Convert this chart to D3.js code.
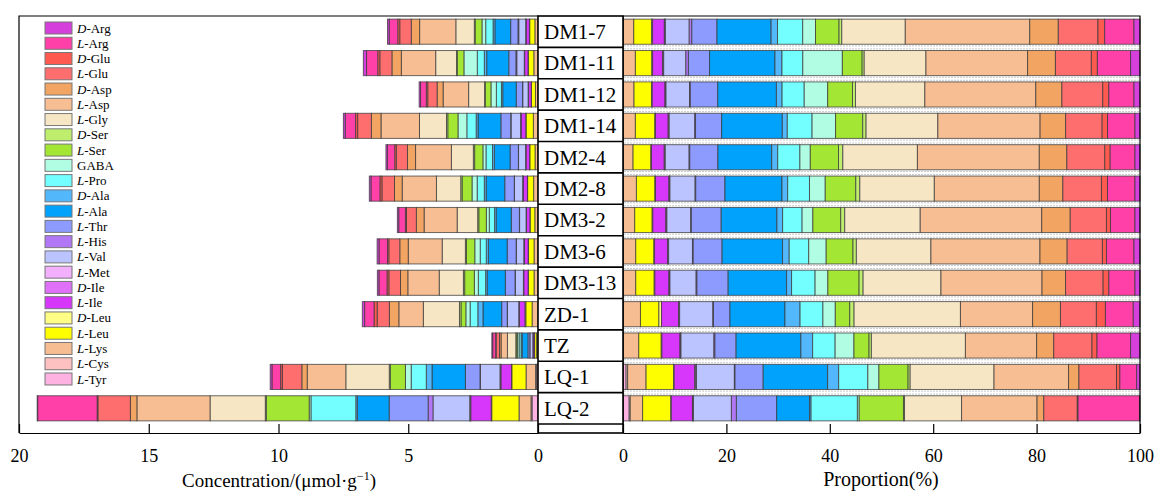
<!DOCTYPE html>
<html>
<head>
<meta charset="utf-8">
<script src="https://cdn.jsdelivr.net/npm/d3@7"></script>
<style>
    body { margin: 0; background: #fff; }
    text { font-family: "Liberation Serif", "Times New Roman", serif; fill: #000; }
</style>
</head>
<body>
<div id="chart"></div>
<script>
// Samples, top to bottom
const samples = ["DM1-7", "DM1-11", "DM1-12", "DM1-14", "DM2-4", "DM2-8", "DM3-2",
    "DM3-6", "DM3-13", "ZD-1", "TZ", "LQ-1", "LQ-2"];

// Amino acids in stacking order (from 0 outwards)
const aminoAcids = ["L-Tyr", "L-Cys", "L-Lys", "L-Leu", "D-Leu", "L-Ile", "D-Ile", "L-Met",
    "L-Val", "L-His", "L-Thr", "L-Ala", "D-Ala", "L-Pro", "GABA", "L-Ser", "D-Ser", "L-Gly",
    "L-Asp", "D-Asp", "L-Glu", "D-Glu", "L-Arg", "D-Arg"];

const aaColors = ["#fdb2e2", "#fdc1c1", "#f6bd92", "#fefe00", "#fefe86", "#d737fb", "#e070f8", "#f3b0fc",
    "#bcc4ff", "#b277f5", "#8c9bfd", "#00a2fb", "#52b8fb", "#73feff", "#b0fde4", "#a3e634", "#bfee6e", "#f7e6c4",
    "#f6be92", "#f2a462", "#ff6e6e", "#ff5a50", "#ff40a8", "#d53fdb"];

// Total concentration per sample (umol/g)
const totals = [5.8, 6.73, 4.58, 7.5, 5.86, 6.5, 5.42, 6.2, 6.19, 6.77, 1.78, 10.32, 19.3];

// Proportion (%) per sample, same order as aminoAcids
const pDM1_7  = [0, 0, 2.08, 3.44, 0.2, 2.27, 0.1, 0.1, 4.6, 0.5, 4.87, 10.45, 1.23, 4.87, 2.47, 4.55, 0.52, 12.27, 24.03, 5.52, 7.66, 1.3, 5.65, 1.17];
const pDM1_11 = [0, 0, 2.4, 3.18, 0.15, 1.95, 0.1, 0.1, 4.29, 0.5, 4.09, 12.66, 1.36, 4.03, 7.66, 3.83, 0.4, 11.95, 19.68, 5.39, 6.95, 1.17, 6.43, 1.82];
const pDM1_12 = [0, 0, 2.14, 3.38, 0.15, 2.47, 0.1, 0.1, 4.55, 0.15, 5.32, 11.36, 1.1, 4.29, 4.55, 4.8, 0.58, 13.44, 21.49, 5.06, 7.92, 1.17, 4.87, 1.17];
const pDM1_14 = [0, 0, 2.4, 3.77, 0.12, 2.47, 0.1, 0.1, 4.94, 0.15, 5.06, 11.75, 0.97, 4.8, 4.55, 5.26, 0.65, 13.9, 19.81, 4.94, 7.08, 1.04, 5.32, 0.97];
const pDM2_4  = [0, 0, 1.95, 3.44, 0.12, 2.47, 0.1, 0.1, 4.61, 0.12, 5.45, 10.39, 1.17, 4.29, 2.01, 5.45, 0.84, 14.42, 23.57, 5.32, 7.34, 1.04, 4.8, 0.97];
const pDM2_8  = [0, 0, 2.6, 3.57, 0.12, 2.6, 0.1, 0.1, 4.87, 0.12, 5.65, 11.04, 1.1, 4.22, 3.05, 5.91, 0.78, 14.42, 20.32, 4.55, 7.47, 1.17, 5.32, 0.97];
const pDM3_2  = [0, 0, 2.27, 3.38, 0.12, 2.53, 0.1, 0.1, 4.61, 0.12, 5.78, 10.78, 1.1, 3.77, 2.08, 5.39, 0.78, 14.61, 23.51, 5.52, 7.01, 0.78, 4.74, 0.97];
const pDM3_6  = [0, 0, 2.47, 3.51, 0.12, 2.53, 0.1, 0.1, 4.61, 0.15, 5.58, 11.69, 1.3, 3.77, 3.38, 5.19, 0.65, 14.42, 21.1, 5.26, 6.82, 0.78, 5.32, 1.17];
const pDM3_13 = [0, 0, 2.47, 3.57, 0.12, 2.73, 0.1, 0.1, 5.06, 0.15, 6.04, 11.3, 0.97, 4.55, 2.47, 6.04, 0.78, 15.06, 19.55, 4.55, 7.27, 1.1, 5.06, 0.97];
const pZD_1   = [0, 0, 3.38, 3.57, 0.5, 3.31, 0.1, 0.1, 6.43, 0.12, 3.18, 10.65, 2.92, 4.42, 2.4, 2.79, 0.84, 20.58, 13.96, 5.39, 6.95, 1.75, 5.39, 1.3];
const pTZ     = [0, 0, 3.05, 4.35, 0.12, 3.5, 0.1, 0.1, 6.36, 0.2, 4.09, 12.53, 2.27, 4.35, 3.64, 2.92, 0.45, 18.18, 13.77, 3.31, 7.4, 0.97, 6.49, 1.82];
const pLQ_1   = [0.6, 0.3, 3.57, 5.32, 0.12, 3.96, 0.2, 0.15, 7.34, 0.12, 5.45, 12.47, 2.14, 5.65, 2.14, 5.65, 0.4, 16.23, 14.42, 2.01, 7.27, 0.65, 3.25, 0.65];
const pLQ_2   = [1.2, 0.2, 2.4, 5.45, 0.1, 4.09, 0.1, 0.1, 7.34, 0.97, 7.79, 6.36, 0.3, 8.96, 0.35, 8.57, 0.2, 11.04, 14.61, 1.3, 6.49, 0.15, 11.88, 0.1];

const proportions = [pDM1_7, pDM1_11, pDM1_12, pDM1_14, pDM2_4, pDM2_8, pDM3_2,
    pDM3_6, pDM3_13, pZD_1, pTZ, pLQ_1, pLQ_2];

const concTicks = [20, 15, 10, 5, 0];
const propTicks = [0, 20, 40, 60, 80, 100];

// Build row objects for stacking
let pctRows = samples.map((s, i) => {
    let sum = d3.sum(proportions[i]);
    let row = {sample: s};
    aminoAcids.forEach((a, j) => row[a] = proportions[i][j] / sum * 100);
    return row;
});
let concRows = samples.map((s, i) => {
    let sum = d3.sum(proportions[i]);
    let row = {sample: s};
    aminoAcids.forEach((a, j) => row[a] = proportions[i][j] / sum * totals[i]);
    return row;
});

let stack = d3.stack().keys(aminoAcids);
let pctSeries = stack(pctRows);
let concSeries = stack(concRows);

let color = d3.scaleOrdinal().domain(aminoAcids).range(aaColors);

// Layout
let width = 1160, height = 493;
let topY = 16, rowsBottom = 424, axisY = 433;
let leftX0 = 19, leftX1 = 538, labX1 = 623, rightX1 = 1140;

let svg = d3.select("#chart").append("svg")
    .attr("width", width)
    .attr("height", height);

let y = d3.scaleBand()
    .domain(samples)
    .range([topY, rowsBottom])
    .paddingInner(0.2)
    .paddingOuter(0.1);

let xL = d3.scaleLinear().domain([20, 0]).range([leftX0, leftX1]);
let xR = d3.scaleLinear().domain([0, 100]).range([labX1, rightX1]);

// Row boundaries
let boundaries = samples.map(s => y(s) - y.step() * y.paddingInner() / 2);
boundaries[0] = topY;
boundaries.push(rowsBottom);

// Right panel dashed separators
svg.append("g")
    .selectAll("line")
    .data(boundaries.slice(1, -1).flatMap(b => [b - 1.5, b + 1.5]))
    .enter()
    .append("line")
    .attr("x1", labX1 + 1)
    .attr("x2", rightX1)
    .attr("y1", d => d)
    .attr("y2", d => d)
    .attr("stroke", "#c8c8c8")
    .attr("stroke-width", 1)
    .attr("stroke-dasharray", "2,1");

// Stacked bars helper
function drawBars(series, x) {
    svg.append("g")
        .selectAll("g")
        .data(series)
        .enter()
        .append("g")
        .attr("fill", d => color(d.key))
        .selectAll("rect")
        .data(d => d)
        .enter()
        .append("rect")
        .attr("x", d => Math.min(x(d[0]), x(d[1])))
        .attr("width", d => Math.abs(x(d[1]) - x(d[0])))
        .attr("y", d => y(d.data.sample))
        .attr("height", y.bandwidth())
        .attr("stroke", "#3a3a3a")
        .attr("stroke-opacity", 0.75)
        .attr("stroke-width", 1);
}

drawBars(concSeries, xL);
drawBars(pctSeries, xR);

// Panel frames
let frame = svg.append("g")
    .attr("fill", "none")
    .attr("stroke", "#000")
    .attr("stroke-width", 1.2);

frame.append("path").attr("d", `M${leftX0},${axisY}V${topY}H${leftX1}`);
frame.append("path").attr("d", `M${labX1},${topY}H${rightX1}V${axisY}`);
frame.append("line").attr("x1", labX1).attr("x2", labX1).attr("y1", topY).attr("y2", axisY);

// Label column
let labG = svg.append("g");
labG.append("rect")
    .attr("x", leftX1)
    .attr("y", topY)
    .attr("width", labX1 - leftX1)
    .attr("height", axisY - topY)
    .attr("fill", "#fff")
    .attr("stroke", "#000")
    .attr("stroke-width", 1.6);

labG.selectAll("line")
    .data(boundaries.slice(1))
    .enter()
    .append("line")
    .attr("x1", leftX1)
    .attr("x2", labX1)
    .attr("y1", d => d)
    .attr("y2", d => d)
    .attr("stroke", "#000")
    .attr("stroke-width", 1.6);

labG.selectAll("text")
    .data(samples)
    .enter()
    .append("text")
    .attr("x", leftX1 + 6)
    .attr("y", d => y(d) + y.bandwidth() / 2)
    .attr("dy", "0.35em")
    .style("font-size", "21px")
    .text(d => d);

// Axes
let axisL = svg.append("g")
    .attr("transform", "translate(0," + axisY + ")")
    .call(d3.axisBottom(xL).tickValues(concTicks).tickSizeInner(-9).tickSizeOuter(0).tickPadding(16));
let axisR = svg.append("g")
    .attr("transform", "translate(0," + axisY + ")")
    .call(d3.axisBottom(xR).tickValues(propTicks).tickSizeInner(-9).tickSizeOuter(0).tickPadding(16));

[axisL, axisR].forEach(a => {
    a.selectAll("text")
        .style("font-family", "'Liberation Serif', 'Times New Roman', serif")
        .style("font-size", "18px")
        .attr("fill", "#000");
    a.selectAll("path, line").attr("stroke", "#000").attr("stroke-width", 1.2);
});

// Axis titles
let titleL = svg.append("text")
    .attr("x", 279)
    .attr("y", 487)
    .attr("text-anchor", "middle")
    .style("font-size", "19px");
titleL.append("tspan").text("Concentration/(\u03bcmol\u00b7g");
titleL.append("tspan").attr("dy", -7).style("font-size", "12px").text("\u22121");
titleL.append("tspan").attr("dy", 7).text(")");

svg.append("text")
    .attr("x", 881)
    .attr("y", 486)
    .attr("text-anchor", "middle")
    .style("font-size", "20px")
    .text("Proportion(%)");

// Legend (outermost component on top)
let legendData = aminoAcids.slice().reverse();
let legend = svg.append("g").attr("class", "legend");

legendData.forEach(function (name, index) {
    let cy = 28 + index * 15.26;
    let item = legend.append("g");

    item.append("rect")
        .attr("x", 45)
        .attr("y", cy - 6)
        .attr("width", 27)
        .attr("height", 12)
        .attr("fill", color(name))
        .attr("stroke", "#777")
        .attr("stroke-width", 1);

    let t = item.append("text")
        .attr("x", 77)
        .attr("y", cy)
        .attr("dy", "0.35em")
        .style("font-size", "13px");

    if (name.indexOf("-") > 0) {
        let parts = name.split("-");
        t.append("tspan").style("font-style", "italic").text(parts[0]);
        t.append("tspan").text("-" + parts[1]);
    } else {
        t.text(name);
    }
});
</script>
</body>
</html>
